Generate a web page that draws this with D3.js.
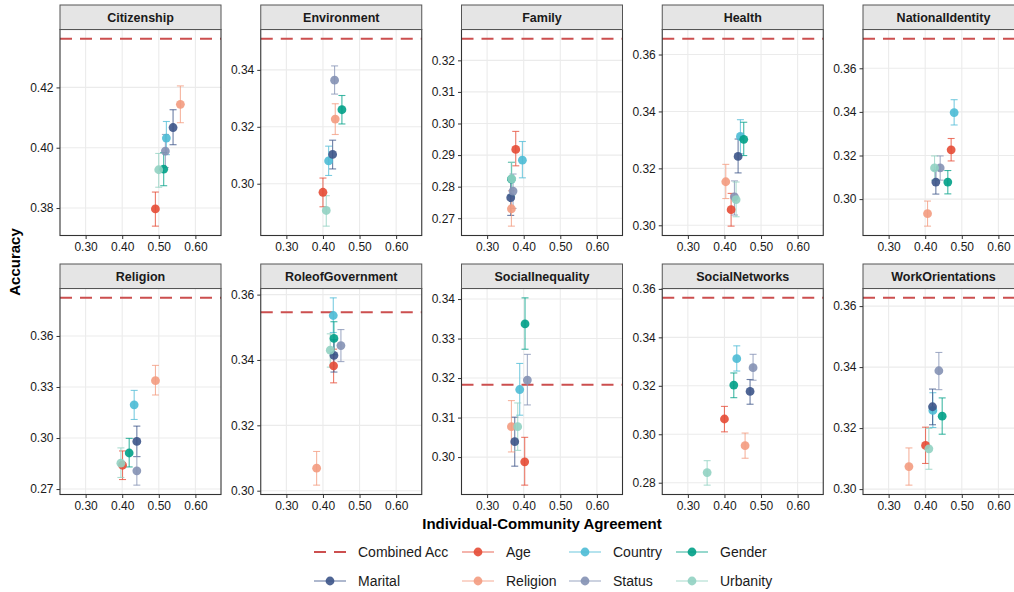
<!DOCTYPE html>
<html>
<head>
<meta charset="utf-8">
<script src="https://cdn.jsdelivr.net/npm/d3@7"></script>
<style>
  html, body { margin: 0; padding: 0; background: #fff; }
  svg { display: block; font-family: "Liberation Sans", Arial, Helvetica, sans-serif; }
</style>
</head>
<body>
<svg id="chart" width="1014" height="592"></svg>
<script>
// ---------- DATA ----------
const facets = ["Citizenship", "Environment", "Family", "Health", "NationalIdentity",
                "Religion", "RoleofGovernment", "SocialInequality", "SocialNetworks", "WorkOrientations"];
const groups = ["Age", "Country", "Gender", "Marital", "Religion", "Status", "Urbanity"];
const groupColors = ["#E64B35", "#4DBBD5", "#00A087", "#3C5488", "#F39B7F", "#8491B4", "#91D1C2"];

const combinedAcc = [0.4361, 0.3509, 0.3268, 0.3655, 0.3735, 0.3824, 0.3546, 0.3183, 0.3563, 0.3627];

// agreement (x) per facet, groups in order above
const agreement = [
  [0.4907, 0.5207, 0.5134, 0.5390, 0.5590, 0.5180, 0.4998],
  [0.4000, 0.4155, 0.4518, 0.4264, 0.4336, 0.4318, 0.4091],
  [0.3782, 0.3964, 0.3664, 0.3645, 0.3664, 0.3709, 0.3673],
  [0.4182, 0.4436, 0.4527, 0.4373, 0.4036, 0.4273, 0.4318],
  [0.4709, 0.4791, 0.4618, 0.4291, 0.4064, 0.4409, 0.4255],
  [0.4009, 0.4327, 0.4191, 0.4400, 0.4909, 0.4400, 0.3964],
  [0.4291, 0.4282, 0.4300, 0.4300, 0.3827, 0.4491, 0.4200],
  [0.4027, 0.3891, 0.4036, 0.3755, 0.3664, 0.4100, 0.3836],
  [0.4000, 0.4336, 0.4255, 0.4700, 0.4564, 0.4782, 0.3527],
  [0.4009, 0.4209, 0.4464, 0.4200, 0.3555, 0.4373, 0.4100]
];
// accuracy (y)
const accuracy = [
  [0.3797, 0.4032, 0.3929, 0.4067, 0.4144, 0.3989, 0.3927],
  [0.2970, 0.3080, 0.3260, 0.3103, 0.3227, 0.3364, 0.2906],
  [0.2918, 0.2884, 0.2824, 0.2765, 0.2730, 0.2786, 0.2825],
  [0.3055, 0.3312, 0.3302, 0.3242, 0.3153, 0.3100, 0.3090],
  [0.3226, 0.3397, 0.3078, 0.3078, 0.2933, 0.3143, 0.3143],
  [0.2840, 0.3195, 0.2912, 0.2980, 0.3337, 0.2807, 0.2852],
  [0.3382, 0.3536, 0.3466, 0.3414, 0.3069, 0.3444, 0.3430],
  [0.2988, 0.3171, 0.3337, 0.3039, 0.3077, 0.3195, 0.3077],
  [0.3063, 0.3312, 0.3203, 0.3177, 0.2953, 0.3275, 0.2842],
  [0.3143, 0.3258, 0.3239, 0.3270, 0.3074, 0.3388, 0.3132]
];
// lower / upper bounds of error bars
const accLow = [
  [0.3740, 0.3977, 0.3874, 0.4010, 0.4083, 0.3934, 0.3869],
  [0.2919, 0.3029, 0.3210, 0.3052, 0.3173, 0.3315, 0.2851],
  [0.2866, 0.2828, 0.2771, 0.2709, 0.2675, 0.2731, 0.2771],
  [0.2997, 0.3251, 0.3245, 0.3184, 0.3094, 0.3036, 0.3030],
  [0.3175, 0.3340, 0.3024, 0.3023, 0.2876, 0.3087, 0.3087],
  [0.2756, 0.3109, 0.2830, 0.2891, 0.3253, 0.2723, 0.2768],
  [0.3330, 0.3484, 0.3416, 0.3363, 0.3017, 0.3395, 0.3378],
  [0.2929, 0.3106, 0.3273, 0.2977, 0.3013, 0.3132, 0.3017],
  [0.3010, 0.3261, 0.3151, 0.3124, 0.2901, 0.3223, 0.2790],
  [0.3084, 0.3202, 0.3180, 0.3211, 0.3013, 0.3326, 0.3065]
];
const accHigh = [
  [0.3853, 0.4087, 0.3984, 0.4126, 0.4205, 0.4044, 0.3981],
  [0.3020, 0.3132, 0.3310, 0.3153, 0.3281, 0.3414, 0.2958],
  [0.2975, 0.2943, 0.2877, 0.2821, 0.2787, 0.2840, 0.2877],
  [0.3112, 0.3371, 0.3362, 0.3303, 0.3214, 0.3156, 0.3152],
  [0.3278, 0.3456, 0.3131, 0.3132, 0.2991, 0.3198, 0.3198],
  [0.2924, 0.3280, 0.2998, 0.3070, 0.3427, 0.2891, 0.2942],
  [0.3433, 0.3590, 0.3517, 0.3462, 0.3120, 0.3493, 0.3480],
  [0.3050, 0.3237, 0.3403, 0.3101, 0.3143, 0.3260, 0.3137],
  [0.3115, 0.3365, 0.3253, 0.3226, 0.3005, 0.3330, 0.2891],
  [0.3203, 0.3316, 0.3299, 0.3328, 0.3135, 0.3448, 0.3199]
];

const xLimits = [0.25, 0.65];
const xTicks = [0.30, 0.40, 0.50, 0.60];
const yTicks = [
  [0.38, 0.40, 0.42],
  [0.30, 0.32, 0.34],
  [0.27, 0.28, 0.29, 0.30, 0.31, 0.32],
  [0.30, 0.32, 0.34, 0.36],
  [0.30, 0.32, 0.34, 0.36],
  [0.27, 0.30, 0.33, 0.36],
  [0.30, 0.32, 0.34, 0.36],
  [0.30, 0.31, 0.32, 0.33, 0.34],
  [0.28, 0.30, 0.32, 0.34, 0.36],
  [0.30, 0.32, 0.34, 0.36]
];

// ---------- LAYOUT ----------
const svg = d3.select("#chart");
const panelW = 161, panelH = 206, stripH = 24.5;
const colLeft = c => 60 + c * 200.75;
const stripTops = [5, 264];
const font = '"Liberation Sans", Arial, Helvetica, sans-serif';
const lineColor = "#cc4f4f";

const xr = xLimits[1] - xLimits[0];
const xDomain = [xLimits[0] - 0.05 * xr, xLimits[1] + 0.05 * xr];

facets.forEach((name, i) => {
  const col = i % 5, row = Math.floor(i / 5);
  const left = colLeft(col);
  const stripTop = stripTops[row];
  const top = stripTop + stripH;

  const g = svg.append("g").attr("transform", `translate(${left},${top})`);

  // y domain from data with 5% expansion
  const lo = d3.min(accLow[i]);
  const hi = d3.max([...accHigh[i], combinedAcc[i]]);
  const r = hi - lo;
  const y = d3.scaleLinear().domain([lo - 0.05 * r, hi + 0.05 * r]).range([panelH, 0]);
  const x = d3.scaleLinear().domain(xDomain).range([0, panelW]);

  // background + grid
  g.append("rect").attr("width", panelW).attr("height", panelH).attr("fill", "#fff");
  g.selectAll("line.gx").data(xTicks).enter().append("line")
    .attr("x1", d => x(d)).attr("x2", d => x(d)).attr("y1", 0).attr("y2", panelH)
    .attr("stroke", "#ebebeb").attr("stroke-width", 1.1);
  g.selectAll("line.gy").data(yTicks[i]).enter().append("line")
    .attr("x1", 0).attr("x2", panelW).attr("y1", d => y(d)).attr("y2", d => y(d))
    .attr("stroke", "#ebebeb").attr("stroke-width", 1.1);

  // combined accuracy reference line
  g.append("line")
    .attr("x1", 0).attr("x2", panelW)
    .attr("y1", y(combinedAcc[i])).attr("y2", y(combinedAcc[i]))
    .attr("stroke", lineColor).attr("stroke-width", 2)
    .attr("stroke-dasharray", "12,8");

  const pts = groups.map((gname, k) => ({
    k, x: agreement[i][k], y: accuracy[i][k], lo: accLow[i][k], hi: accHigh[i][k], color: groupColors[k]
  }));

  // error bars
  const eb = g.selectAll("g.eb").data(pts).enter().append("g")
    .attr("stroke", d => d.color).attr("stroke-width", 1.1).attr("stroke-opacity", 0.75);
  eb.append("line").attr("x1", d => x(d.x)).attr("x2", d => x(d.x))
    .attr("y1", d => y(d.lo)).attr("y2", d => y(d.hi));
  eb.append("line").attr("x1", d => x(d.x) - 3.5).attr("x2", d => x(d.x) + 3.5)
    .attr("y1", d => y(d.lo)).attr("y2", d => y(d.lo));
  eb.append("line").attr("x1", d => x(d.x) - 3.5).attr("x2", d => x(d.x) + 3.5)
    .attr("y1", d => y(d.hi)).attr("y2", d => y(d.hi));

  // points
  g.selectAll("circle.pt").data(pts).enter().append("circle")
    .attr("cx", d => x(d.x)).attr("cy", d => y(d.y)).attr("r", 4.4)
    .attr("fill", d => d.color).attr("fill-opacity", 0.9);

  // panel border
  g.append("rect").attr("width", panelW).attr("height", panelH)
    .attr("fill", "none").attr("stroke", "#333").attr("stroke-width", 1.1);

  // axes
  const yAxis = d3.axisLeft(y).tickValues(yTicks[i]).tickFormat(d3.format(".2f")).tickSizeOuter(0).tickSize(3.5).tickPadding(3);
  const ya = g.append("g").call(yAxis);
  ya.select(".domain").remove();
  ya.selectAll("line").attr("stroke", "#333");
  ya.selectAll("text").attr("fill", "#1a1a1a").style("font-size", "12px").style("font-family", font);

  const xAxis = d3.axisBottom(x).tickValues(xTicks).tickFormat(d3.format(".2f")).tickSizeOuter(0).tickSize(3.5).tickPadding(3);
  const xa = g.append("g").attr("transform", `translate(0,${panelH})`).call(xAxis);
  xa.select(".domain").remove();
  xa.selectAll("line").attr("stroke", "#333");
  xa.selectAll("text").attr("fill", "#1a1a1a").style("font-size", "12px").style("font-family", font);

  // strip
  svg.append("rect").attr("x", left).attr("y", stripTop).attr("width", panelW).attr("height", stripH)
    .attr("fill", "#e5e5e5").attr("stroke", "#555").attr("stroke-width", 1);
  svg.append("text").attr("x", left + panelW / 2).attr("y", stripTop + stripH / 2 + 4.3)
    .attr("text-anchor", "middle").attr("font-weight", "bold").attr("font-size", "12.5px")
    .attr("fill", "#1a1a1a").text(name);
});

// axis titles
svg.append("text").attr("x", 542).attr("y", 529).attr("text-anchor", "middle")
  .attr("font-weight", "bold").attr("font-size", "15px").attr("fill", "#000")
  .text("Individual-Community Agreement");
svg.append("text").attr("transform", "translate(20,262) rotate(-90)").attr("text-anchor", "middle")
  .attr("font-weight", "bold").attr("font-size", "15px").attr("fill", "#000")
  .text("Accuracy");

// legend
const legendItems = [{ label: "Combined Acc", type: "line", color: lineColor }]
  .concat(groups.map((gname, k) => ({ label: gname, type: "point", color: groupColors[k] })));
const keyX = [314, 462, 569, 676];
const rowY = [552, 581];
legendItems.forEach((item, j) => {
  const col = j % 4, row = Math.floor(j / 4);
  const kx = keyX[col], ky = rowY[row];
  const lg = svg.append("g");
  if (item.type === "line") {
    lg.append("line").attr("x1", kx).attr("x2", kx + 33).attr("y1", ky).attr("y2", ky)
      .attr("stroke", item.color).attr("stroke-width", 2).attr("stroke-dasharray", "12,8");
  } else {
    lg.append("line").attr("x1", kx).attr("x2", kx + 32).attr("y1", ky).attr("y2", ky)
      .attr("stroke", item.color).attr("stroke-width", 1.1).attr("stroke-opacity", 0.75);
    lg.append("circle").attr("cx", kx + 16).attr("cy", ky).attr("r", 4.4)
      .attr("fill", item.color).attr("fill-opacity", 0.9);
  }
  lg.append("text").attr("x", kx + 44).attr("y", ky + 5).attr("font-size", "14px")
    .attr("fill", "#1a1a1a").text(item.label);
});
</script>
</body>
</html>
